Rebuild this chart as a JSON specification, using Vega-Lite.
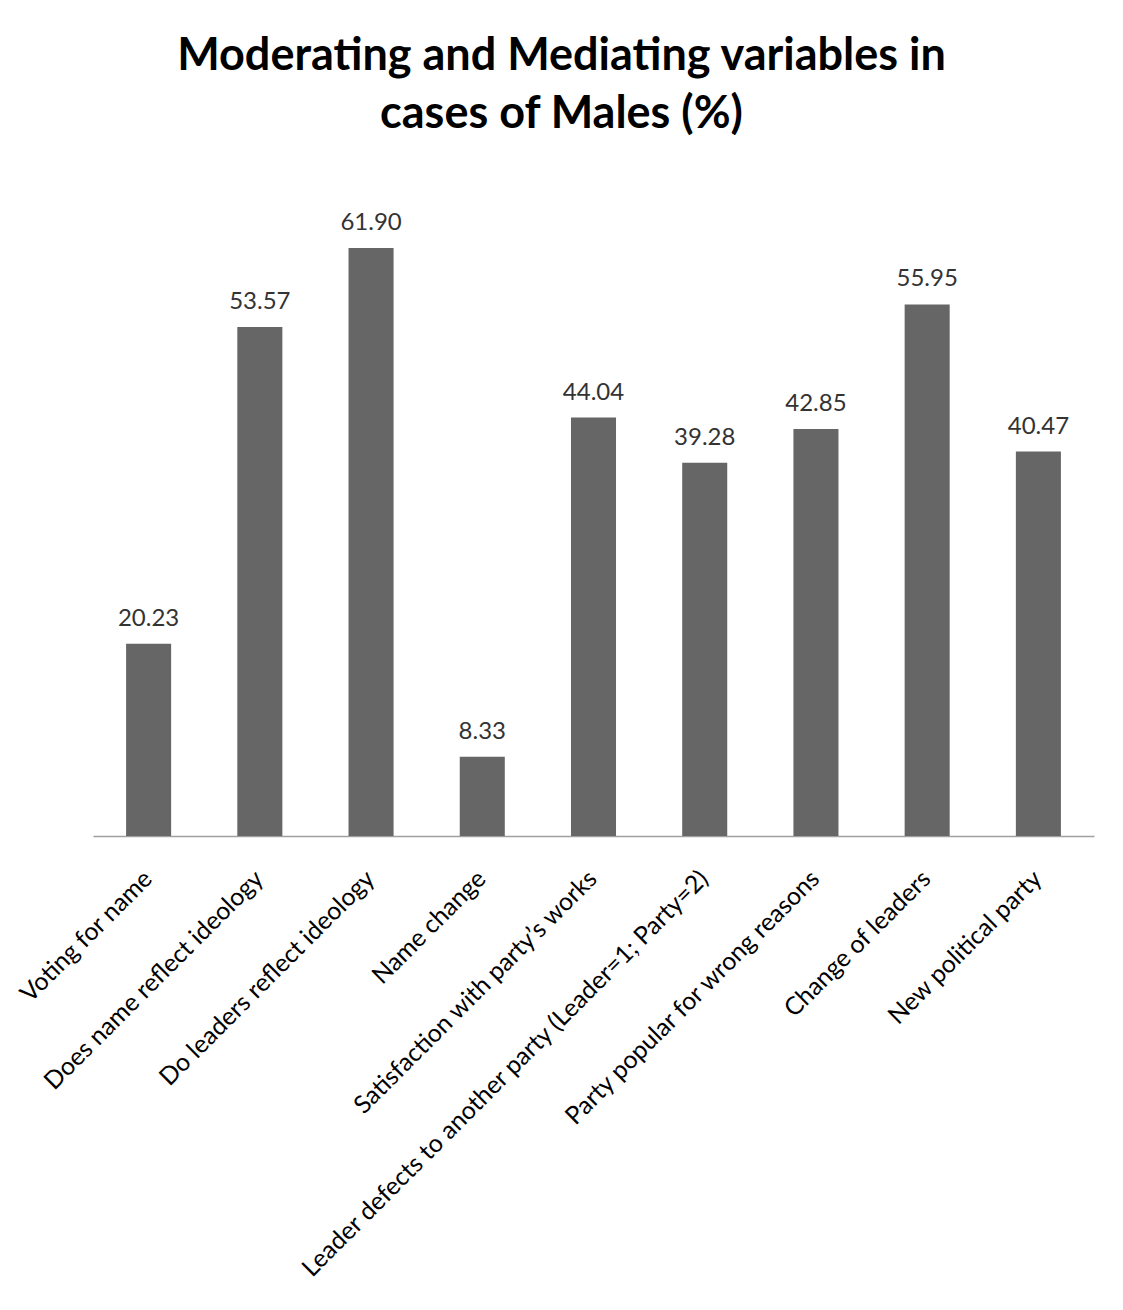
{
  "$schema": "https://vega.github.io/schema/vega-lite/v6.json",
  "autosize": "none",
  "width": 1001,
  "height": 665,
  "padding": {"left": 93, "top": 171, "right": 29, "bottom": 474},
  "background": "white",
  "title": {
    "text": ["Moderating and Mediating variables in", "cases of Males (%)"],
    "font": "Lato",
    "fontWeight": "bold",
    "fontSize": 45,
    "lineHeight": 58,
    "color": "#000000",
    "anchor": "middle",
    "frame": "group",
    "dx": -32,
    "offset": 34
  },
  "data": {
    "values": [
      {"category": "Voting for name", "value": 20.23},
      {"category": "Does name reflect ideology", "value": 53.57},
      {"category": "Do leaders reflect ideology", "value": 61.90},
      {"category": "Name change", "value": 8.33},
      {"category": "Satisfaction with party’s works", "value": 44.04},
      {"category": "Leader defects to another party (Leader=1; Party=2)", "value": 39.28},
      {"category": "Party popular for wrong reasons", "value": 42.85},
      {"category": "Change of leaders", "value": 55.95},
      {"category": "New political party", "value": 40.47}
    ]
  },
  "encoding": {
    "x": {
      "field": "category",
      "type": "nominal",
      "sort": null,
      "scale": {"paddingInner": 0.595, "paddingOuter": 0.2975},
      "axis": {
        "title": null,
        "labelAngle": -45,
        "labelAlign": "right",
        "labelBaseline": "middle",
        "labelFont": "Lato",
        "labelFontSize": 24.8,
        "labelColor": "#000000",
        "labelPadding": 39,
        "labelLimit": 1000,
        "ticks": false,
        "domainColor": "#a0a0a0",
        "domainWidth": 1.5
      }
    },
    "y": {
      "field": "value",
      "type": "quantitative",
      "scale": {"domain": [0, 70]},
      "axis": null
    }
  },
  "layer": [
    {"mark": {"type": "bar", "color": "#666666"}},
    {
      "mark": {"type": "text", "dy": -18, "baseline": "alphabetic", "font": "Lato", "fontSize": 24, "color": "#333333"},
      "encoding": {"text": {"field": "value", "type": "quantitative", "format": ".2f"}}
    }
  ],
  "config": {"view": {"stroke": null}}
}
